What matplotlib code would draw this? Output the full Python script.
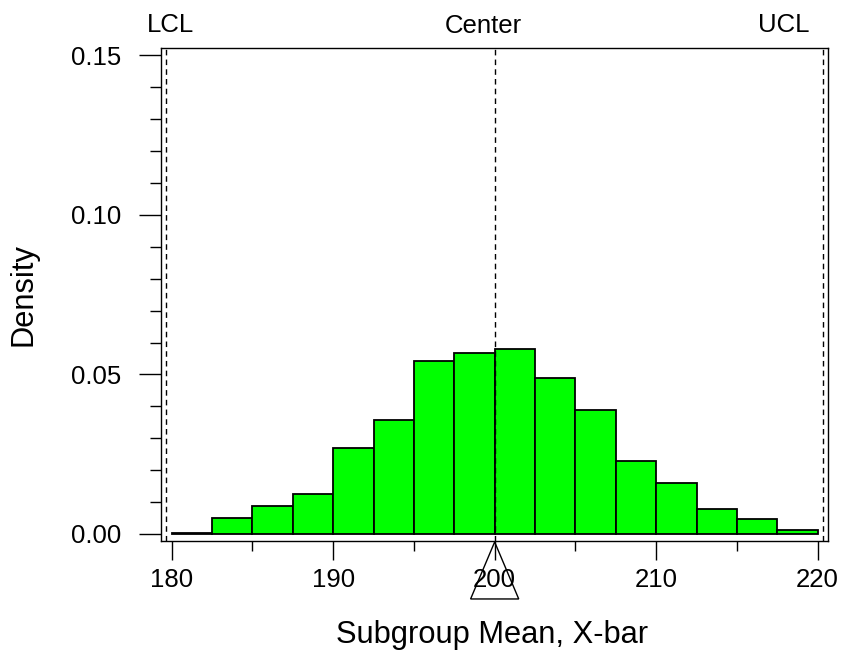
import numpy as np
import matplotlib
matplotlib.use('Agg')
import matplotlib.pyplot as plt
from matplotlib.patches import Polygon
import matplotlib.transforms as mtransforms

plt.rcParams['font.family'] = ['Liberation Sans', 'DejaVu Sans']

# histogram of subgroup means (density), bins of width 2.5 from 180 to 220
bin_edges = [180.0, 182.5, 185.0, 187.5, 190.0, 192.5, 195.0, 197.5, 200.0,
             202.5, 205.0, 207.5, 210.0, 212.5, 215.0, 217.5, 220.0]
density = [0.0004, 0.0049, 0.0088, 0.0124, 0.0269, 0.0357, 0.0541, 0.0568,
           0.0579, 0.0490, 0.0389, 0.0230, 0.0161, 0.0078, 0.0046, 0.0013]

lcl = 179.63
center = 200.0
ucl = 220.3
limit_names = ['LCL', 'Center', 'UCL']

fig = plt.figure(figsize=(8.43, 6.54), dpi=100)
ax = fig.add_axes([0.1906, 0.1728, 0.7916, 0.7538])

widths = np.diff(bin_edges)
ax.bar(bin_edges[:-1], density, width=widths, align='edge',
       color='#00ff00', edgecolor='black', linewidth=1.3, zorder=2)

for v in (lcl, center, ucl):
    ax.axvline(v, color='black', linestyle=(0, (4, 3)), linewidth=1.0, zorder=3)

ax.set_xlim(179.32, 220.64)
ax.set_ylim(-0.0022, 0.15235)

ax.set_xticks([180, 190, 200, 210, 220])
ax.set_xticks([185, 195, 205, 215], minor=True)
ax.set_yticks([0.0, 0.05, 0.10, 0.15])
ax.set_yticks(np.arange(0.01, 0.15, 0.01), minor=True)
ax.set_yticklabels(['0.00', '0.05', '0.10', '0.15'])

ax.tick_params(axis='x', which='major', length=13.7, width=1.0, pad=5.5,
               labelsize=18.5)
ax.tick_params(axis='x', which='minor', length=7.2, width=1.0)
ax.tick_params(axis='y', which='major', length=15.8, width=1.0, pad=12.5,
               labelsize=18.5)
ax.tick_params(axis='y', which='minor', length=7.9, width=1.0)

for s in ax.spines.values():
    s.set_linewidth(1.0)

ax.set_xlabel('Subgroup Mean, X-bar', fontsize=22.2, va='baseline')
ax.xaxis.set_label_coords(0.496, -0.207)
ax.set_ylabel('Density', fontsize=22.2)
ax.yaxis.set_label_coords(-0.1834, 0.5)

# mean marker triangle under the axis
trans = mtransforms.blended_transform_factory(ax.transData, ax.transAxes)
half = 1.49
tri = Polygon([[center, -0.002], [center - half, -0.1176], [center + half, -0.1176]],
              closed=True, fill=False, edgecolor='black', linewidth=1.0,
              transform=trans, clip_on=False, zorder=5)
ax.add_patch(tri)

# limit labels above the plot
fig.text(147 / 843, 1 - 32.3 / 654, limit_names[0], fontsize=18.5,
         ha='left', va='baseline')
fig.text(483.5 / 843, 1 - 33 / 654, limit_names[1], fontsize=18.5,
         ha='center', va='baseline')
fig.text(810 / 843, 1 - 32.3 / 654, limit_names[2], fontsize=18.5,
         ha='right', va='baseline')

plt.savefig('out.png', dpi=100)
